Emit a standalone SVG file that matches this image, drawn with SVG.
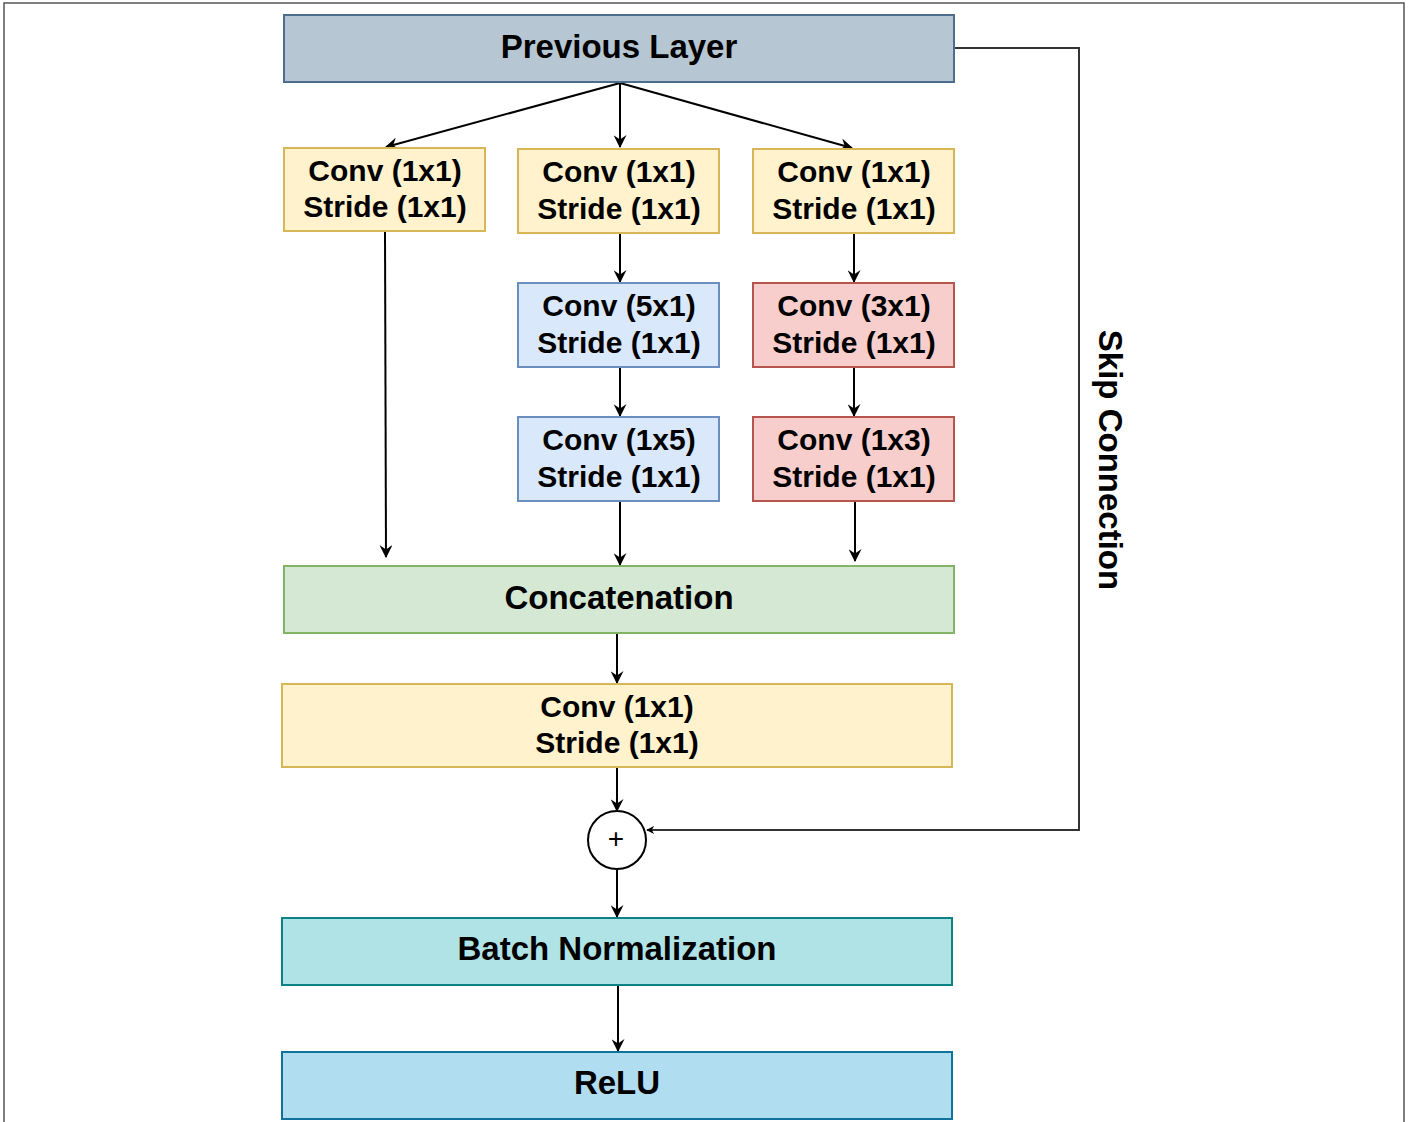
<svg xmlns="http://www.w3.org/2000/svg" width="1415" height="1122" viewBox="0 0 1415 1122">
<style>
text{font-family:"Liberation Sans",Arial,sans-serif;font-weight:bold;font-size:30px;fill:#000;text-anchor:middle;dominant-baseline:central}
.big{font-size:33px}
.e{fill:none;stroke:#000;stroke-width:2}
.yl{fill:#fff2cc;stroke:#d6b656;stroke-width:2}
.bl{fill:#dae8fc;stroke:#6c8ebf;stroke-width:2}
.rd{fill:#f8cecc;stroke:#b85450;stroke-width:2}
</style>
<defs>
<marker id="a" viewBox="0 0 10 10" refX="9" refY="5" markerWidth="8" markerHeight="8" markerUnits="userSpaceOnUse" orient="auto">
<path d="M0,0 L10,5 L0,10 L3,5 Z" fill="#000"/>
</marker>
<marker id="ah" viewBox="0 0 12 12" refX="11" refY="6" markerWidth="13" markerHeight="13" markerUnits="userSpaceOnUse" orient="auto">
<path d="M0,0 L12,6 L0,12 L4,6 Z" fill="#000"/>
</marker>
</defs>
<rect x="4" y="3" width="1400" height="1130" fill="#fff" stroke="#555" stroke-width="1.5"/>
<g id="connectors">
<path class="e" d="M620,83 L386,147" marker-end="url(#ah)"/>
<path class="e" d="M620,83 L620,147" marker-end="url(#ah)"/>
<path class="e" d="M620,83 L852,148" marker-end="url(#ah)"/>
<path class="e" d="M385,232 L386,557" marker-end="url(#ah)"/>
<path class="e" d="M620,234 L620,282" marker-end="url(#ah)"/>
<path class="e" d="M854,234 L854,282" marker-end="url(#ah)"/>
<path class="e" d="M620,368 L620,416" marker-end="url(#ah)"/>
<path class="e" d="M854,368 L854,416" marker-end="url(#ah)"/>
<path class="e" d="M620,502 L620,565" marker-end="url(#ah)"/>
<path class="e" d="M855,502 L855,561" marker-end="url(#ah)"/>
<path class="e" d="M617,634 L617,683" marker-end="url(#ah)"/>
<path class="e" d="M617,768 L617,811" marker-end="url(#ah)"/>
<path class="e" d="M617,869 L617,917" marker-end="url(#ah)"/>
<path class="e" d="M618,986 L618,1051" marker-end="url(#ah)"/>
<path fill="none" stroke="#333" stroke-width="2" d="M955,48 L1079,48 L1079,830 L647,830" marker-end="url(#a)"/>
</g>
<g id="prev"><rect x="284" y="15" width="670" height="67" fill="#b6c6d2" stroke="#4d6d8c" stroke-width="2"/><text class="big" x="619" y="46">Previous Layer</text></g>
<g id="c1"><rect class="yl" x="284" y="148" width="201" height="83"/><text x="385" y="170">Conv (1x1)</text><text x="385" y="206">Stride (1x1)</text></g>
<g id="c2"><rect class="yl" x="518" y="149" width="201" height="84"/><text x="619" y="171">Conv (1x1)</text><text x="619" y="208">Stride (1x1)</text></g>
<g id="c3"><rect class="yl" x="753" y="149" width="201" height="84"/><text x="854" y="171">Conv (1x1)</text><text x="854" y="208">Stride (1x1)</text></g>
<g id="c51"><rect class="bl" x="518" y="283" width="201" height="84"/><text x="619" y="305">Conv (5x1)</text><text x="619" y="342">Stride (1x1)</text></g>
<g id="c31"><rect class="rd" x="753" y="283" width="201" height="84"/><text x="854" y="305">Conv (3x1)</text><text x="854" y="342">Stride (1x1)</text></g>
<g id="c15"><rect class="bl" x="518" y="417" width="201" height="84"/><text x="619" y="439">Conv (1x5)</text><text x="619" y="476">Stride (1x1)</text></g>
<g id="c13"><rect class="rd" x="753" y="417" width="201" height="84"/><text x="854" y="439">Conv (1x3)</text><text x="854" y="476">Stride (1x1)</text></g>
<g id="concat"><rect x="284" y="566" width="670" height="67" fill="#d5e8d4" stroke="#82b366" stroke-width="2"/><text class="big" x="619" y="597">Concatenation</text></g>
<g id="c4"><rect class="yl" x="282" y="684" width="670" height="83"/><text x="617" y="706">Conv (1x1)</text><text x="617" y="742">Stride (1x1)</text></g>
<g id="add"><circle cx="617" cy="840" r="29" fill="#fff" stroke="#000" stroke-width="2"/><text x="616" y="838" style="font-weight:normal;font-size:28px">+</text></g>
<g id="bn"><rect x="282" y="918" width="670" height="67" fill="#b0e3e6" stroke="#0e8088" stroke-width="2"/><text class="big" x="617" y="948">Batch Normalization</text></g>
<g id="relu"><rect x="282" y="1052" width="670" height="67" fill="#b1ddf0" stroke="#10739e" stroke-width="2"/><text class="big" x="617" y="1082">ReLU</text></g>
<g id="skiplabel"><text class="big" transform="translate(1110,460) rotate(90)">Skip Connection</text></g>
</svg>
